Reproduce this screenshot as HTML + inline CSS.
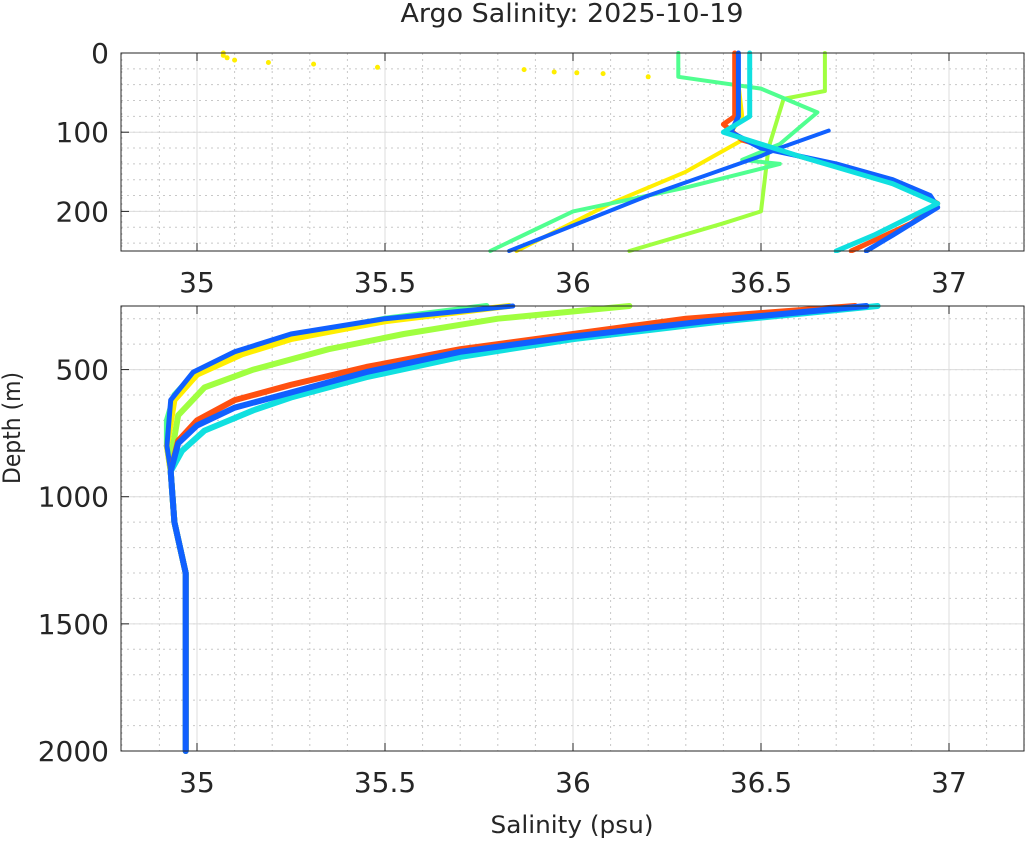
<!DOCTYPE html>
<html><head><meta charset="utf-8"><style>
body{margin:0;background:#fff}
svg{display:block;font-family:"DejaVu Sans","Liberation Sans",sans-serif}
</style></head><body>
<svg id="s" width="1029" height="841" xmlns="http://www.w3.org/2000/svg">
<rect width="1029" height="841" fill="#fff"/>
<g id="g"></g>
<text x="572" y="22" font-size="26" text-anchor="middle" fill="#262626" textLength="343" lengthAdjust="spacingAndGlyphs">Argo Salinity: 2025-10-19</text>
<text x="572" y="833" font-size="24" text-anchor="middle" fill="#262626" textLength="163" lengthAdjust="spacingAndGlyphs">Salinity (psu)</text>
<text transform="translate(20,428) rotate(-90)" font-size="24" text-anchor="middle" fill="#262626" textLength="112" lengthAdjust="spacingAndGlyphs">Depth (m)</text>
</svg>
<script>
const g=document.getElementById('g');let h='';
const X=s=>197+(s-35)*376;
const L=121,R=1024;
function panel(top,bot,d0,d1,majors,minorStep){
 const Y=d=>top+(d-d0)/(d1-d0)*(bot-top);
 for(let s=34.8;s<=37.21;s+=0.1){const x=X(s);h+=`<line x1="${x}" x2="${x}" y1="${top}" y2="${bot}" stroke="#c8c8c8" stroke-dasharray="2,4"/>`;}
 for(let d=Math.ceil(d0/minorStep)*minorStep;d<=d1;d+=minorStep){const y=Y(d);h+=`<line x1="${L}" x2="${R}" y1="${y}" y2="${y}" stroke="#c8c8c8" stroke-dasharray="2,4"/>`;}
 for(let s of [35,35.5,36,36.5,37]){const x=X(s);h+=`<line x1="${x}" x2="${x}" y1="${top}" y2="${bot}" stroke="#dcdcdc"/><line x1="${x}" x2="${x}" y1="${bot}" y2="${bot-8}" stroke="#262626"/><line x1="${x}" x2="${x}" y1="${top}" y2="${top+8}" stroke="#262626"/><text x="${x}" y="${bot+41}" font-size="28" text-anchor="middle" fill="#262626">${s}</text>`;}
 for(let d of majors){const y=Y(d);h+=`<line x1="${L}" x2="${R}" y1="${y}" y2="${y}" stroke="#dcdcdc"/><line x1="${L}" x2="${L+8}" y1="${y}" y2="${y}" stroke="#262626"/><text x="${L-12}" y="${y+10}" font-size="28" text-anchor="end" fill="#262626">${d}</text>`;}
 return Y;
}
function prof(Y,pts,c,w){
 let p=pts.map(a=>X(a[0]).toFixed(1)+','+Y(a[1]).toFixed(1)).join(' ');
 h+=`<polyline points="${p}" fill="none" stroke="${c}" stroke-width="${w}" stroke-linejoin="round" stroke-linecap="round"/>`;
}
function dots(Y,pts,c,r){for(const a of pts)h+=`<circle cx="${X(a[0]).toFixed(1)}" cy="${Y(a[1]).toFixed(1)}" r="${r}" fill="${c}"/>`;}
const Y1=panel(53,251,0,250,[0,100,200],20);
h+=`<clipPath id="c1"><rect x="${L}" y="48" width="${R-L}" height="205"/></clipPath><clipPath id="c2"><rect x="${L}" y="300" width="${R-L}" height="454"/></clipPath><g clip-path="url(#c1)">`;
const O='#ff5010',B='#1060ff',C='#10e0e0',Yw='#ffee00',LG='#a0ff40',GC='#50ff90';
dots(Y1,[[35.07,0],[35.07,3],[35.08,6],[35.1,9],[35.19,12],[35.31,14],[35.48,18],[35.87,21],[35.95,24],[36.01,25],[36.08,26],[36.2,30],[36.44,38]],Yw,2.5);
prof(Y1,[[36.44,38],[36.45,80],[36.42,100],[36.45,110],[36.3,150],[36.1,190],[35.85,250]],Yw,4);
prof(Y1,[[36.67,0],[36.67,48],[36.56,58],[36.52,120],[36.5,200],[36.4,215],[36.15,250]],LG,4);
prof(Y1,[[36.28,0],[36.28,30],[36.5,45],[36.65,75],[36.6,95],[36.55,115],[36.45,135],[36.55,140],[36.3,170],[36.0,200],[35.78,250]],GC,4);
prof(Y1,[[36.43,0],[36.43,80],[36.4,90],[36.45,110],[36.6,130],[36.75,150],[36.9,170],[36.97,190],[36.9,215],[36.74,250]],O,5);
prof(Y1,[[36.44,0],[36.44,80],[36.42,100],[36.5,120],[36.7,140],[36.85,160],[36.95,180],[36.97,195],[36.85,230],[36.78,250]],B,5);
prof(Y1,[[36.68,98],[36.55,120],[36.5,130],[36.2,180],[35.83,250]],B,4);
prof(Y1,[[36.47,0],[36.47,80],[36.4,100],[36.6,130],[36.85,165],[36.97,190],[36.8,230],[36.7,250]],C,5);
h+='</g>';
const Y2=panel(306,751,250,2000,[500,1000,1500,2000],100);
h+='<g clip-path="url(#c2)">';
const tail=[[34.93,900],[34.94,1100],[34.97,1300],[34.97,1500],[34.97,2000]];
prof(Y2,[[35.77,250],[35.5,300],[35.25,370],[35.1,440],[34.99,520],[34.94,600],[34.92,700],[34.92,800]].concat(tail),GC,6);
prof(Y2,[[35.83,250],[35.5,310],[35.25,380],[35.12,440],[35.0,520],[34.94,620],[34.92,800]].concat(tail),Yw,6);
prof(Y2,[[36.15,250],[35.8,300],[35.55,360],[35.35,420],[35.15,500],[35.02,570],[34.95,680],[34.93,850]].concat(tail),LG,6);
prof(Y2,[[35.84,250],[35.5,300],[35.25,360],[35.1,430],[34.99,510],[34.93,620],[34.92,800]].concat(tail),B,5);
prof(Y2,[[36.75,250],[36.3,300],[36.0,360],[35.7,420],[35.45,490],[35.25,560],[35.1,620],[35.0,700],[34.95,780],[34.93,900]].concat(tail),O,6);
prof(Y2,[[36.81,250],[36.4,310],[36.0,380],[35.7,450],[35.45,530],[35.25,610],[35.15,660],[35.02,740],[34.96,820]].concat(tail),C,6);
prof(Y2,[[36.78,250],[36.35,310],[36.0,370],[35.7,430],[35.45,510],[35.25,590],[35.1,650],[35.0,720],[34.95,790],[34.93,900]].concat(tail),B,6);
h+='</g>';
h+=`<rect x="${L}" y="53" width="${R-L}" height="198" fill="none" stroke="#262626"/><rect x="${L}" y="306" width="${R-L}" height="445" fill="none" stroke="#262626"/>`;
g.innerHTML=h;
</script>
</body></html>
